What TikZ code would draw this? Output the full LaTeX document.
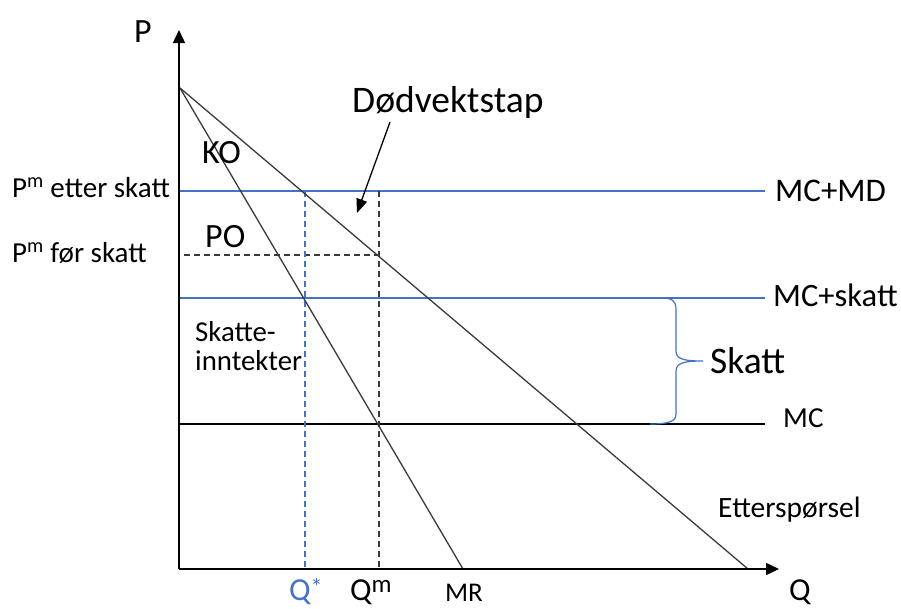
\documentclass[tikz,border=0pt]{standalone}
\usepackage{fontspec}
\setmainfont{Carlito}
\usetikzlibrary{arrows.meta}
\definecolor{obl}{HTML}{4472C4}
\definecolor{dg}{HTML}{3A3A3A}
\begin{document}
\begin{tikzpicture}[x=1pt,y=-1pt,
  axisline/.style={line width=1.5pt,black},
  curveline/.style={line width=1.3pt,dg},
  blueline/.style={line width=1.2pt,obl},
  blackh/.style={line width=1.3pt,black},
  dashblk/.style={line width=1.3pt,dg,dash pattern=on 6pt off 4pt},
  dashblu/.style={line width=1.3pt,obl,dash pattern=on 6pt off 4pt},
  lbl/.style={inner sep=0pt,anchor=base west},
  lblc/.style={inner sep=0pt,anchor=base},
]
\useasboundingbox (0,0) rectangle (901,608);
% coordinates
\coordinate (O) at (179,569);
\coordinate (Ptop) at (179,30);
\coordinate (Qend) at (779,569);
\coordinate (A) at (180,88);
\coordinate (Dend) at (748,569);
\coordinate (MRend) at (463,569);
\coordinate (mdL) at (179,191);
\coordinate (mdR) at (765,191);
\coordinate (stL) at (179,298);
\coordinate (stR) at (765,298);
\coordinate (mcL) at (179,424);
\coordinate (mcR) at (765,424);
\coordinate (pfL) at (184,255);
\coordinate (pfR) at (378,255);
\coordinate (qsT) at (305,191);
\coordinate (qsB) at (305,569);
\coordinate (qmT) at (379,191);
\coordinate (qmB) at (379,569);
\coordinate (arS) at (390,122);
\coordinate (arE) at (357,213);
% horizontal lines
\draw[blueline] (mdL) -- (mdR);
\draw[blueline] (stL) -- (stR);
\draw[blackh] (mcL) -- (mcR);
\draw[dashblk] (pfL) -- (pfR);
\draw[dashblu] (qsT) -- (qsB);
\draw[dashblk] (qmT) -- (qmB);
% curves
\draw[curveline] (A) -- (Dend);
\draw[curveline] (A) -- (MRend);
% axes
\draw[axisline,-{Triangle[length=13pt,width=12pt]}] (O) -- (Ptop);
\draw[axisline,-{Triangle[length=13pt,width=12pt]}] (O) -- (Qend);
% brace
\draw[blueline] (660,298) .. controls (672,298) and (676,300) .. (676,310)
  -- (676,350) .. controls (676,358) and (680,361) .. (703,361)
  (703,361) .. controls (680,361) and (676,364) .. (676,372)
  -- (676,414) .. controls (676,421) and (670,424) .. (650,424);
% arrow
\draw[line width=1.3pt,black,-{Triangle[length=14pt,width=11pt]}] (arS) -- (arE);
% labels
\node[lblc,font=\fontsize{34}{34}\selectfont] (lP) at (143,42) {P};
\node[lblc,font=\fontsize{32}{32}\selectfont] (lQ) at (800,600) {Q};
\node[lbl,font=\fontsize{32}{32}\selectfont,text=obl] (lQs) at (289,600) {Q\raisebox{5pt}{\fontsize{24}{24}\selectfont *}};
\node[lbl,font=\fontsize{32}{32}\selectfont] (lQm) at (350,600) {Q\raisebox{8pt}{\fontsize{25}{25}\selectfont m}};
\node[lblc,font=\fontsize{27}{27}\selectfont] (lMR) at (464,601) {MR};
\node[lbl,font=\fontsize{29.5}{29.5}\selectfont] (lEt) at (718,517) {Etterspørsel};
\node[lbl,font=\fontsize{29}{29}\selectfont] (lMC) at (783,427) {MC};
\node[lbl,font=\fontsize{32.6}{32.6}\selectfont] (lMCs) at (773,306) {MC+skatt};
\node[lbl,font=\fontsize{33}{33}\selectfont] (lMCmd) at (775,201) {MC+MD};
\node[lbl,font=\fontsize{37.5}{37.5}\selectfont] (lSk) at (710,373) {Skatt};
\node[lbl,font=\fontsize{37.5}{37.5}\selectfont] (lDv) at (352,112) {Dødvektstap};
\node[lbl,font=\fontsize{34}{34}\selectfont] (lKO) at (202,163) {KO};
\node[lbl,font=\fontsize{34}{34}\selectfont] (lPO) at (205,247) {PO};
\node[lbl,font=\fontsize{29}{29}\selectfont] (lPe) at (12,197) {P\textsuperscript{m} etter skatt};
\node[lbl,font=\fontsize{29}{29}\selectfont] (lPf) at (12,262) {P\textsuperscript{m} før skatt};
\node[lbl,font=\fontsize{28.8}{28.8}\selectfont] (lSi1) at (195,341) {Skatte-};
\node[lbl,font=\fontsize{28.8}{28.8}\selectfont] (lSi2) at (195,370) {inntekter};
\end{tikzpicture}
\end{document}
